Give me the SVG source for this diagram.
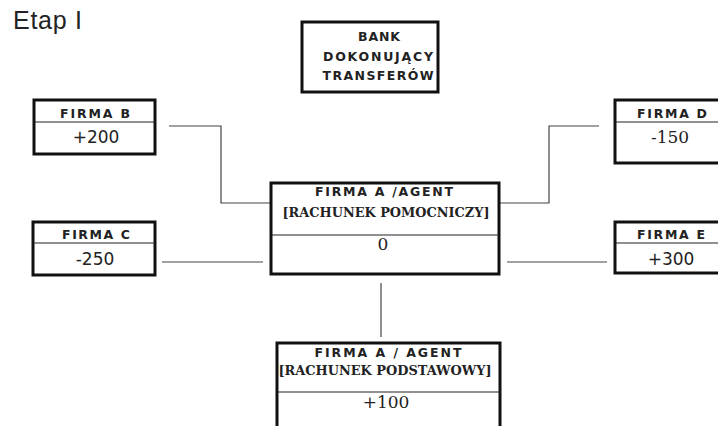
<svg xmlns="http://www.w3.org/2000/svg" width="718" height="426" viewBox="0 0 718 426">
<style>
.box{fill:#fff;stroke:#111;stroke-width:3}
.div{stroke:#222;stroke-width:1.2}
.lbl{font-family:"DejaVu Sans",Verdana,sans-serif;font-weight:bold;font-size:12.5px;fill:#222;text-anchor:middle}
.sub{font-family:"DejaVu Serif","Liberation Serif",serif;font-weight:bold;font-size:13px;fill:#222;text-anchor:middle}
.num{font-family:"DejaVu Sans",sans-serif;font-size:17px;fill:#222;text-anchor:middle}
.nums{font-family:"DejaVu Serif",serif;font-size:17px;fill:#222;text-anchor:middle}
.conn{fill:none;stroke:#444;stroke-width:1.2}
</style>
<rect width="718" height="426" fill="#fff"/>
<text x="13" y="29" font-family="Liberation Sans, Arial, sans-serif" font-size="25" fill="#222" textLength="69" lengthAdjust="spacing">Etap I</text>
<g id="connectors">
<path class="conn" d="M169 126H221V203H270"/>
<path class="conn" d="M599 126H549V203H500"/>
<path class="conn" d="M162 262H263"/>
<path class="conn" d="M507 262H607"/>
<path class="conn" d="M381 283V337"/>
</g>
<g id="bank">
<rect class="box" x="302" y="22" width="136" height="70"/>
<text class="lbl" x="379" y="41" textLength="42" lengthAdjust="spacing">BANK</text>
<text class="lbl" x="378" y="61" textLength="110" lengthAdjust="spacing">DOKONUJĄCY</text>
<text class="lbl" x="378" y="80" textLength="111" lengthAdjust="spacing">TRANSFERÓW</text>
</g>
<g id="firmaB">
<rect class="box" x="34" y="100" width="121" height="54"/>
<line class="div" x1="34" y1="122" x2="155" y2="122"/>
<text class="lbl" x="95" y="118" textLength="70" lengthAdjust="spacing">FIRMA B</text>
<text class="num" x="96" y="143">+200</text>
</g>
<g id="firmaD">
<rect class="box" x="615" y="100" width="120" height="63"/>
<line class="div" x1="615" y1="122" x2="735" y2="122"/>
<text class="lbl" x="672" y="118" textLength="70" lengthAdjust="spacing">FIRMA D</text>
<text class="nums" x="670" y="143">-150</text>
</g>
<g id="firmaC">
<rect class="box" x="33" y="222" width="122" height="53"/>
<line class="div" x1="33" y1="243" x2="155" y2="243"/>
<text class="lbl" x="96" y="239" textLength="68" lengthAdjust="spacing">FIRMA C</text>
<text class="num" x="95" y="265">-250</text>
</g>
<g id="firmaE">
<rect class="box" x="615" y="222" width="120" height="51"/>
<line class="div" x1="615" y1="243" x2="735" y2="243"/>
<text class="lbl" x="671" y="239" textLength="68" lengthAdjust="spacing">FIRMA E</text>
<text class="num" x="671" y="265">+300</text>
</g>
<g id="agentPomocniczy">
<rect class="box" x="271" y="183" width="228" height="91"/>
<line class="div" x1="271" y1="235" x2="499" y2="235"/>
<text class="lbl" x="384" y="196" textLength="138" lengthAdjust="spacing">FIRMA A /AGENT</text>
<text class="sub" x="386" y="217" textLength="207" lengthAdjust="spacingAndGlyphs">[RACHUNEK POMOCNICZY]</text>
<text class="nums" x="383" y="250">0</text>
</g>
<g id="agentPodstawowy">
<rect class="box" x="277" y="343" width="223" height="95"/>
<line class="div" x1="277" y1="392" x2="500" y2="392"/>
<text class="lbl" x="388" y="357" textLength="147" lengthAdjust="spacing">FIRMA A / AGENT</text>
<text class="sub" x="385" y="375" textLength="213" lengthAdjust="spacingAndGlyphs">[RACHUNEK PODSTAWOWY]</text>
<text class="nums" x="386" y="408">+100</text>
</g>
</svg>
